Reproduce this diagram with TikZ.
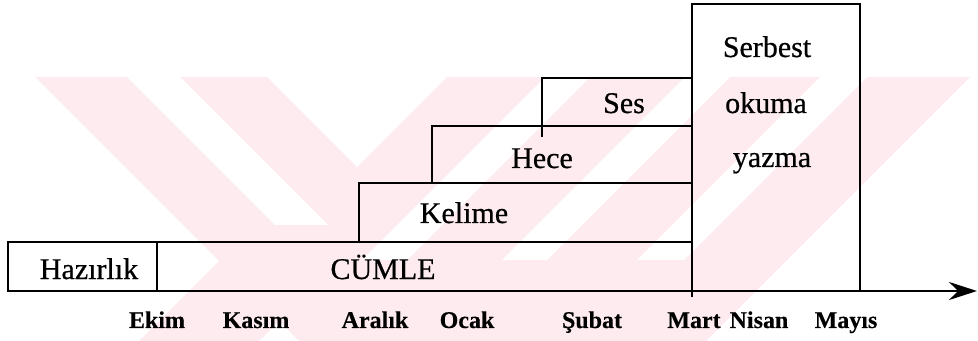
\documentclass[tikz,border=0pt]{standalone}
\usepackage{fontspec}
\setmainfont{Liberation Serif}
\newfontface\lblface{Liberation Serif}[FakeBold=0.6]
\newfontface\monface{Liberation Serif Bold}[FakeBold=0.3]
\usetikzlibrary{arrows.meta}
\definecolor{wm}{RGB}{253,235,239}
\tikzset{
  boxline/.style={line width=1.3pt, line join=miter, line cap=rect},
  lbl/.style={font=\lblface\fontsize{15}{18}\selectfont, inner sep=0pt, anchor=base},
  mon/.style={font=\monface\fontsize{12}{14}\selectfont, inner sep=0pt, anchor=base},
  wmfill/.style={fill=wm, draw=none},
  wmgap/.style={fill=white, draw=none},
}
\begin{document}
\begin{tikzpicture}[x=0.5pt,y=-0.5pt]
\useasboundingbox (0,0) rectangle (978,341);
% watermark (background)
\begin{scope}
\clip (0,77) rectangle (978,341);
\fill[wmfill] (35,77) -- (970,77) -- (706,341) -- (299,341) -- cycle;
\fill[wmfill] (240,240) -- (360,240) -- (259,341) -- (139,341) -- cycle;
\fill[wmgap] (127,77) -- (180,77) -- (328,225) -- (275,225) -- cycle;
\fill[wmgap] (267,77) -- (447,77) -- (357,167) -- cycle;
\fill[wmgap] (545,77) -- (590,77) -- (407,260) -- (362,260) -- cycle;
\fill[wmgap] (685,77) -- (730,77) -- (547,260) -- (502,260) -- cycle;
\fill[wmgap] (820,77) -- (867,77) -- (684,260) -- (637,260) -- cycle;
\end{scope}
% coordinates
\coordinate (o) at (8,291);
\coordinate (tip) at (977,291);
\coordinate (hl) at (8,242);
\coordinate (hr) at (157,242);
\coordinate (hb) at (157,291);
\coordinate (ct) at (692,242);
\coordinate (kl) at (359,242);
\coordinate (kt) at (359,183);
\coordinate (kr) at (692,183);
\coordinate (el) at (432,183);
\coordinate (et) at (432,126);
\coordinate (er) at (692,126);
\coordinate (sb) at (542,136);
\coordinate (st) at (542,78);
\coordinate (sr) at (692,78);
\coordinate (fb) at (692,296);
\coordinate (ftl) at (692,4);
\coordinate (ftr) at (860,4);
\coordinate (fbr) at (860,291);
% boxes
\draw[boxline] (o) -- (hl) -- (ct);
\draw[boxline] (hr) -- (hb);
\draw[boxline] (kl) -- (kt) -- (kr);
\draw[boxline] (el) -- (et) -- (er);
\draw[boxline] (sb) -- (st) -- (sr);
\draw[boxline] (fb) -- (ftl) -- (ftr) -- (fbr);
\draw[boxline, -{Stealth[length=14pt,width=9pt]}] (o) -- (tip);
% labels
\node[lbl] (hz) at (89,279) {Hazırlık};
\node[lbl] (cu) at (383,279) {CÜMLE};
\node[lbl] (ke) at (464,223) {Kelime};
\node[lbl] (he) at (542,168) {Hece};
\node[lbl] (se) at (624,113) {Ses};
\node[lbl] (sf) at (767,57) {Serbest};
\node[lbl] (ok) at (766,113) {okuma};
\node[lbl] (ya) at (772,167) {yazma};
% months
\node[mon] (m1) at (157,328) {Ekim};
\node[mon] (m2) at (256,328) {Kasım};
\node[mon] (m3) at (375,328) {Aralık};
\node[mon] (m4) at (467,328) {Ocak};
\node[mon] (m5) at (592,328) {Şubat};
\node[mon] (m6) at (694,328) {Mart};
\node[mon] (m7) at (759,328) {Nisan};
\node[mon] (m8) at (846,328) {Mayıs};
\end{tikzpicture}
\end{document}
